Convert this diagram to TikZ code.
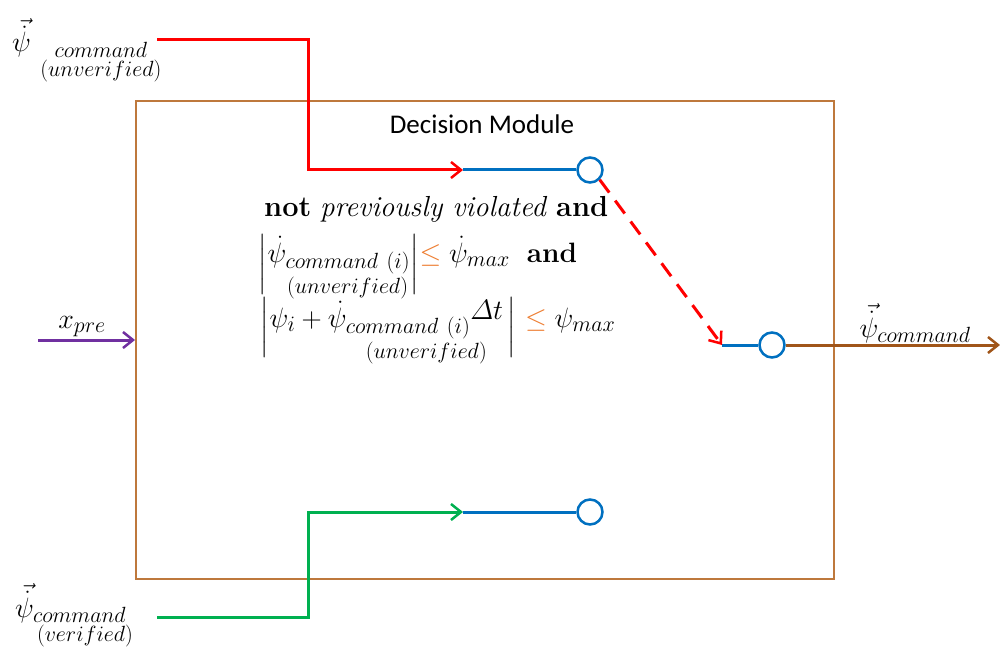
\RequirePackage{fix-cm}
\documentclass[tikz,border=0pt]{standalone}
\usepackage{amsmath}
\usepackage{mathtools}
\usepackage{fontspec}
\newfontfamily\carlito{Carlito}
\usetikzlibrary{arrows.meta}
\DeclareMathSizes{28}{28}{22}{17}
\DeclareMathSizes{29}{29}{22}{17}
\delimitershortfall=0pt
\delimiterfactor=1000
\definecolor{boxbrown}{RGB}{190,120,60}
\definecolor{outbrown}{RGB}{160,85,25}
\definecolor{myred}{RGB}{255,0,0}
\definecolor{myblue}{RGB}{0,112,192}
\definecolor{mygreen}{RGB}{0,176,80}
\definecolor{mypurple}{RGB}{112,48,160}
\definecolor{myorange}{RGB}{237,125,49}
\newcommand{\psivd}{\vec{\dot{\psi}}}
\newcommand{\absbar}[3]{\raisebox{#1}{$\left|\rule[#2]{0pt}{#3}\right.$}}
\begin{document}
\begin{tikzpicture}[x=1pt,y=-1pt,
  wire/.style={line width=3pt},
  tip/.style={-{Straight Barb[length=10pt,width=16pt,line width=2.5pt]}},
  switchc/.style={circle,draw=myblue,line width=2.5pt,minimum size=25pt,inner sep=0pt,fill=white},
  lbl/.style={inner sep=0pt,font=\fontsize{28}{32}\selectfont}
]
\useasboundingbox (0,0) rectangle (1000,652);
\node[draw=boxbrown,line width=2pt,minimum width=698pt,minimum height=478pt,anchor=north west,inner sep=0pt] (box) at (135,100) {};
\node[font=\carlito\fontsize{27}{30}\selectfont,anchor=base] (title) at (482,134) {Decision Module};
% switches
\node[switchc] (c1) at (590,170) {};
\node[switchc] (c2) at (772,345) {};
\node[switchc] (c3) at (590,512) {};
\coordinate (r0) at (157,40);
\coordinate (rj) at (308,40);
\coordinate (rk) at (308,170);
\coordinate (a1) at (463,170);
\coordinate (a2) at (722,345);
\coordinate (g0) at (157,617);
\coordinate (gj) at (308,617);
\coordinate (gk) at (308,512);
\coordinate (a3) at (463,512);
\coordinate (xin) at (38,340);
\coordinate (out) at (1000,345);
% red input
\draw[wire,myred,tip] (r0) -- (rj) -- (rk) -- (a1);
\draw[wire,myblue] (a1) -- (c1.west);
\draw[wire,myred,dash pattern=on 16pt off 10pt,tip] (c1.south east) -- (a2);
\draw[wire,myblue] (a2) -- (c2.west);
\draw[wire,outbrown,tip] (c2.east) -- (out);
% green input
\draw[wire,mygreen,tip] (g0) -- (gj) -- (gk) -- (a3);
\draw[wire,myblue] (a3) -- (c3.west);
% purple
\draw[wire,mypurple,tip] (xin) -- (xin -| box.west);
% labels
\node[lbl,anchor=base west] (lr) at (12,52) {$\psivd\,\,_{\substack{command\\(unverified)}}$};
\node[lbl,anchor=base west] (lg) at (15,617) {$\psivd_{\substack{command\\ \mathrlap{\kern4pt(verified)}\hphantom{command}}}$};
\node[lbl,anchor=base] (lo) at (915,337) {$\psivd_{command}$};
\node[lbl,anchor=base] (lx) at (82,328) {$x_{pre}$};
% conditions
\node[lbl,font=\fontsize{29}{32}\selectfont,anchor=base west] (t1) at (264,217) {\textbf{not} \textit{previously violated} \textbf{and}};
\node[lbl,anchor=base west] (t2) at (258,262) {\absbar{-9.5pt}{-20.5pt}{55pt}$\dot\psi_{\substack{command\ (i)\\(unverified)}}$\absbar{-9.5pt}{-20.5pt}{55pt}$\mathrel{\color{myorange}\le}\dot\psi_{max}$\ \ \textbf{and}};
\node[lbl,anchor=base west] (t3) at (260,327) {\absbar{-7.5pt}{-19.5pt}{53pt}$\psi_i+\dot\psi_{\substack{command\ (i)\\ \mathrlap{\kern20pt(unverified)}\hphantom{command\ (i)}}}\raisebox{8pt}{$\varDelta t$}$\,\absbar{-7.5pt}{-19.5pt}{53pt}$\;\mathrel{\color{myorange}\le}\psi_{max}$};
\end{tikzpicture}
\end{document}
